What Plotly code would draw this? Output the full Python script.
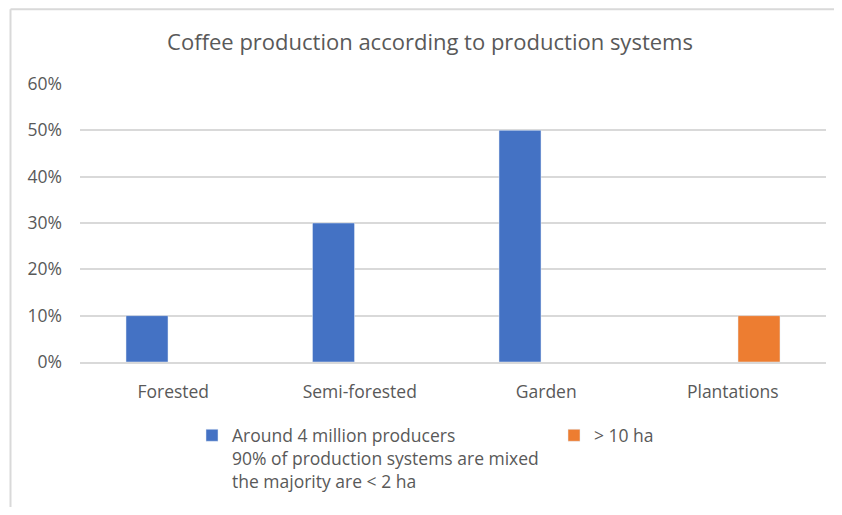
import plotly.graph_objects as go

categories = ["Forested", "Semi-forested", "Garden", "Plantations"]
small_producers = [0.10, 0.30, 0.50, None]
large_farms = [None, None, None, 0.10]

small_name = "Around 4 million producers<br>90% of production systems are mixed<br>the majority are < 2 ha"
large_name = "> 10 ha"
y_ticks = [0, 0.1, 0.2, 0.3, 0.4, 0.5, 0.6]

FONT = "Open Sans"
GREY = "#595959"

# figure fills the page body (842x515 window minus the 8px body margin)
OFF = 8
W, H = 842 - 2 * OFF, 515 - 2 * OFF
# plot area in window pixels: x 80..826, y 84..365
ML, MR, MT, MB = 80 - OFF, W - (826 - OFF), 84 - OFF, H - (365 - OFF)
PW, PH = W - ML - MR, H - MT - MB


def px_x(px):
    # window pixel -> paper x
    return (px - OFF - ML) / PW


def px_y(py):
    # window pixel -> paper y
    return (H - MB - (py - OFF)) / PH


fig = go.Figure()
fig.add_trace(go.Bar(x=categories, y=small_producers, name=small_name,
                     marker_color="#4472C4", legend="legend"))
fig.add_trace(go.Bar(x=categories, y=large_farms, name=large_name,
                     marker_color="#ED7D31", legend="legend2"))

legend_common = dict(orientation="h", xanchor="left", yanchor="top",
                     valign="top", y=px_y(421),
                     font=dict(size=17.5, color=GREY))

fig.update_layout(
    margin=dict(l=ML, r=MR, t=MT, b=MB),
    paper_bgcolor="white", plot_bgcolor="white",
    barmode="group", bargap=0.437, bargroupgap=0.2,
    font=dict(family=FONT, color=GREY, size=17.5),
    title=dict(text="Coffee production according to production systems",
               x=(430 - OFF) / W, xanchor="center",
               y=1 - (42 - OFF) / H, yanchor="middle",
               font=dict(size=22, color=GREY)),
    xaxis=dict(showline=True, linecolor="#D9D9D9", linewidth=1.5,
               ticks="", ticklabelstandoff=13,
               tickfont=dict(size=17.5, color=GREY)),
    yaxis=dict(range=[0, 0.6], tickvals=y_ticks, tickformat=".0%",
               showgrid=True, gridcolor="#D9D9D9", gridwidth=1.5,
               zeroline=False, showline=False, ticks="",
               ticklabelstandoff=17, tickfont=dict(size=17.5, color=GREY)),
    legend=dict(legend_common, x=px_x(192)),
    legend2=dict(legend_common, x=px_x(554)),
    showlegend=True,
)

# chart frame (only top and left edges visible in the crop)
frame = dict(type="line", xref="paper", yref="paper",
             line=dict(color="#D9D9D9", width=2))
fig.add_shape(**frame, x0=px_x(10.5), x1=px_x(860), y0=px_y(8.5), y1=px_y(8.5))
fig.add_shape(**frame, x0=px_x(10.5), x1=px_x(10.5), y0=px_y(8.5), y1=px_y(530))

fig.write_html("out.html")
